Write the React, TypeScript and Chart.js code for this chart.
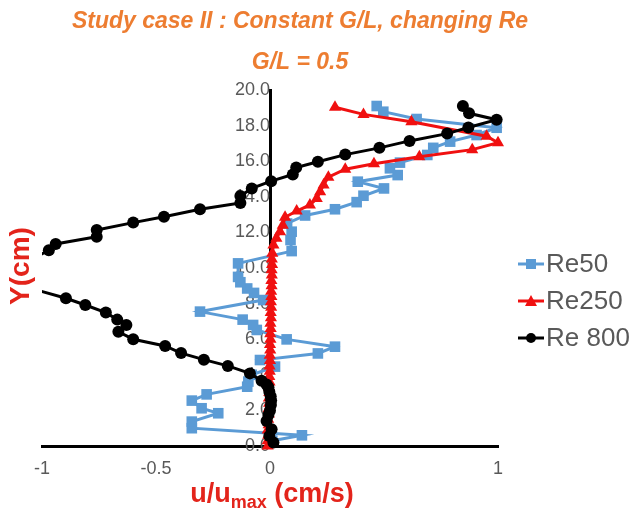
import React, { useEffect, useRef } from 'react';
import { Chart, registerables } from 'chart.js';

Chart.register(...registerables);

const TITLE = 'Study case II : Constant G/L, changing Re';
const SUBTITLE = 'G/L = 0.5';
const Y_TITLE = 'Y(cm)';
const X_TITLE_MAIN = 'u/u';
const X_TITLE_SUB = 'max';
const X_TITLE_UNIT = ' (cm/s)';

const seriesNames = ['Re50', 'Re250', 'Re 800'];
const seriesColors = ['#5B9BD5', '#F01010', '#000000'];
const seriesMarkers = ['rect', 'triangle', 'circle'];

const xTickValues = [-1, -0.5, 0, 0.5, 1];
const xTickLabels = ['-1', '-0.5', '0', '', '1'];
const yTickValues = [0, 2, 4, 6, 8, 10, 12, 14, 16, 18, 20];
const yTickLabels = ['0.0', '2.0', '4.0', '6.0', '8.0', '10.0', '12.0', '14.0', '16.0', '18.0', '20.0'];

// [u/umax, Y(cm)]
const re50: [number, number][] = [
  [0.01, 0.3], [0.14, 0.6], [-0.343, 1.0], [-0.343, 1.37], [-0.227, 1.84], [-0.3, 2.12],
  [-0.343, 2.55], [-0.278, 2.9], [-0.1, 3.33], [-0.095, 3.62], [-0.08, 4.0], [0.022, 4.46],
  [-0.044, 4.83], [0.21, 5.2], [0.285, 5.58], [0.073, 5.99], [-0.058, 6.52], [-0.074, 6.8],
  [-0.12, 7.1], [-0.307, 7.55], [-0.03, 8.2], [-0.07, 8.6], [-0.1, 8.85], [-0.13, 9.2],
  [-0.14, 9.5], [-0.14, 10.26], [0.095, 10.95], [0.09, 11.57], [0.095, 12.04], [0.075, 12.5],
  [0.154, 12.95], [0.285, 13.3], [0.38, 13.7], [0.41, 14.06], [0.5, 14.47], [0.385, 14.85],
  [0.56, 15.22], [0.526, 15.6], [0.57, 15.92], [0.69, 16.35], [0.716, 16.75], [0.79, 17.1],
  [0.906, 17.47], [0.994, 17.88], [0.643, 18.37], [0.497, 18.78], [0.468, 19.1],
];

const re250: [number, number][] = [
  [-0.01, 0.0], [-0.01, 0.3], [-0.008, 0.6], [-0.01, 0.9], [-0.006, 1.2], [-0.008, 1.5],
  [-0.005, 1.8], [-0.006, 2.1], [-0.004, 2.4], [-0.005, 2.7], [-0.003, 3.0], [-0.004, 3.3],
  [-0.002, 3.6], [-0.003, 3.9], [-0.001, 4.2], [-0.002, 4.5], [0.0, 4.8], [-0.001, 5.1],
  [0.001, 5.4], [0.0, 5.7], [0.002, 6.0], [0.001, 6.3], [0.003, 6.6], [0.002, 6.9],
  [0.004, 7.2], [0.003, 7.5], [0.005, 7.8], [0.004, 8.1], [0.006, 8.4], [0.005, 8.7],
  [0.007, 9.0], [0.006, 9.3], [0.008, 9.6], [0.007, 9.9], [0.009, 10.2], [0.008, 10.5],
  [0.01, 10.83], [0.015, 11.29], [0.028, 11.67], [0.044, 12.04], [0.056, 12.4], [0.066, 12.85],
  [0.117, 13.2], [0.175, 13.54], [0.205, 13.9], [0.22, 14.29], [0.235, 14.66], [0.256, 15.1],
  [0.33, 15.55], [0.456, 15.86], [0.655, 16.25], [0.887, 16.65], [1.0, 17.04], [0.95, 17.4],
  [0.62, 18.22], [0.41, 18.63], [0.285, 19.03],
];

const re800: [number, number][] = [
  [0.015, 0.2], [-0.003, 0.56], [0.007, 0.94], [-0.015, 1.4], [-0.007, 1.74], [0.0, 2.0],
  [0.004, 2.3], [0.005, 2.55], [0.003, 2.8], [-0.003, 3.05], [-0.007, 3.3], [-0.015, 3.45],
  [-0.037, 3.67], [-0.088, 4.08], [-0.185, 4.5], [-0.29, 4.85], [-0.39, 5.22], [-0.46, 5.62],
  [-0.6, 6.0], [-0.665, 6.42], [-0.63, 6.8], [-0.67, 7.1], [-0.72, 7.5], [-0.81, 7.92],
  [-0.895, 8.3], [-1.2, 9.4], [-0.97, 11.0], [-0.94, 11.35], [-0.76, 11.76], [-0.76, 12.13],
  [-0.6, 12.55], [-0.465, 12.88], [-0.307, 13.3], [-0.13, 13.65], [-0.13, 14.04], [-0.08, 14.47],
  [0.005, 14.88], [0.1, 15.25], [0.115, 15.65], [0.21, 15.97], [0.33, 16.37], [0.48, 16.75],
  [0.612, 17.14], [0.777, 17.55], [0.87, 17.89], [0.994, 18.33], [0.873, 18.69], [0.846, 19.1],
];

const FONT = "'Liberation Sans', Arial, sans-serif";
const ORANGE = '#ED7D31';
const AXIS_RED = '#E3241B';
const GREY = '#595959';

const textPlugin = {
  id: 'textPlugin',
  afterDraw(chart: any) {
    const ctx = chart.ctx as CanvasRenderingContext2D;
    ctx.save();
    ctx.fillStyle = ORANGE;
    ctx.font = `italic bold 23px ${FONT}`;
    ctx.textAlign = 'center';
    ctx.textBaseline = 'middle';
    ctx.fillText(TITLE, 300, 22);
    ctx.fillText(SUBTITLE, 300, 63);

    ctx.save();
    ctx.translate(21, 266);
    ctx.rotate(-Math.PI / 2);
    ctx.fillStyle = AXIS_RED;
    ctx.font = `bold 28px ${FONT}`;
    ctx.textAlign = 'center';
    ctx.textBaseline = 'middle';
    ctx.fillText(Y_TITLE, 0, 0);
    ctx.restore();

    ctx.fillStyle = AXIS_RED;
    ctx.textAlign = 'left';
    ctx.textBaseline = 'alphabetic';
    const mainFont = `bold 27px ${FONT}`;
    const subFont = `bold 18px ${FONT}`;
    ctx.font = mainFont;
    const w1 = ctx.measureText(X_TITLE_MAIN).width;
    const w3 = ctx.measureText(X_TITLE_UNIT).width;
    ctx.font = subFont;
    const w2 = ctx.measureText(X_TITLE_SUB).width;
    let x = 272 - (w1 + w2 + w3) / 2;
    const base = 502;
    ctx.font = mainFont;
    ctx.fillText(X_TITLE_MAIN, x, base);
    x += w1;
    ctx.font = subFont;
    ctx.fillText(X_TITLE_SUB, x, base + 6);
    x += w2;
    ctx.font = mainFont;
    ctx.fillText(X_TITLE_UNIT, x, base);

    const rows = [264, 301, 338];
    seriesNames.forEach((name, i) => {
      const y = rows[i];
      ctx.strokeStyle = seriesColors[i];
      ctx.lineWidth = 3;
      ctx.beginPath();
      ctx.moveTo(518, y);
      ctx.lineTo(544, y);
      ctx.stroke();
      ctx.fillStyle = seriesColors[i];
      ctx.beginPath();
      if (seriesMarkers[i] === 'rect') {
        ctx.rect(526, y - 5, 10, 10);
      } else if (seriesMarkers[i] === 'triangle') {
        ctx.moveTo(531, y - 6);
        ctx.lineTo(537, y + 5);
        ctx.lineTo(525, y + 5);
        ctx.closePath();
      } else {
        ctx.arc(531, y, 5, 0, Math.PI * 2);
      }
      ctx.fill();
      ctx.fillStyle = GREY;
      ctx.font = `26px ${FONT}`;
      ctx.textAlign = 'left';
      ctx.textBaseline = 'middle';
      ctx.fillText(name, 546, y + 1);
    });
    ctx.restore();
  },
};

export default function App() {
  const ref = useRef<HTMLCanvasElement>(null);
  useEffect(() => {
    document.body.style.margin = '0';
    const canvas = ref.current!;
    const toPts = (arr: [number, number][]) => arr.map(([x, y]) => ({ x, y }));
    const radii = [7.5, 7, 6];
    const datasets = [re50, re250, re800].map((d, i) => ({
      label: seriesNames[i],
      data: toPts(d),
      showLine: true,
      borderColor: seriesColors[i],
      backgroundColor: seriesColors[i],
      borderWidth: 3,
      pointStyle: seriesMarkers[i] as any,
      pointRadius: radii[i],
      pointBorderWidth: 0,
      order: 3 - i,
      clip: { left: 0, right: 10, top: 10, bottom: 10 } as any,
    }));
    const chart = new Chart(canvas, {
      type: 'scatter',
      data: { datasets },
      options: {
        animation: false,
        responsive: false,
        devicePixelRatio: 1,
        layout: { padding: { left: 42, right: 137, top: 90, bottom: 0 } },
        plugins: { legend: { display: false }, tooltip: { enabled: false }, title: { display: false } },
        scales: {
          x: {
            type: 'linear',
            min: -1,
            max: 1,
            afterFit: (s: any) => {
              s.height = 70;
              s.paddingLeft = 0;
              s.paddingRight = 0;
            },
            afterBuildTicks: (s: any) => {
              s.ticks = xTickValues.map((v) => ({ value: v }));
            },
            grid: { display: true, color: 'rgba(0,0,0,0)', drawTicks: false },
            border: { display: true, color: '#000', width: 3 },
            ticks: {
              font: { family: FONT, size: 18 },
              color: GREY,
              padding: 12,
              callback: (v: any) => xTickLabels[xTickValues.indexOf(Number(v))] ?? '',
            },
          },
          y: {
            type: 'linear',
            min: 0,
            max: 20,
            position: { x: 0 } as any,
            afterFit: (s: any) => {
              s.paddingTop = 0;
              s.paddingBottom = 0;
            },
            afterBuildTicks: (s: any) => {
              s.ticks = yTickValues.map((v) => ({ value: v }));
            },
            grid: { display: true, color: 'rgba(0,0,0,0)', drawTicks: false },
            border: { display: true, color: '#000', width: 3 },
            ticks: {
              font: { family: FONT, size: 18 },
              color: GREY,
              padding: 16,
              callback: (v: any) => yTickLabels[yTickValues.indexOf(Number(v))] ?? '',
            },
          },
        },
      },
      plugins: [textPlugin],
    });
    return () => chart.destroy();
  }, []);
  return <canvas ref={ref} width={635} height={516} style={{ display: 'block' }} />;
}
